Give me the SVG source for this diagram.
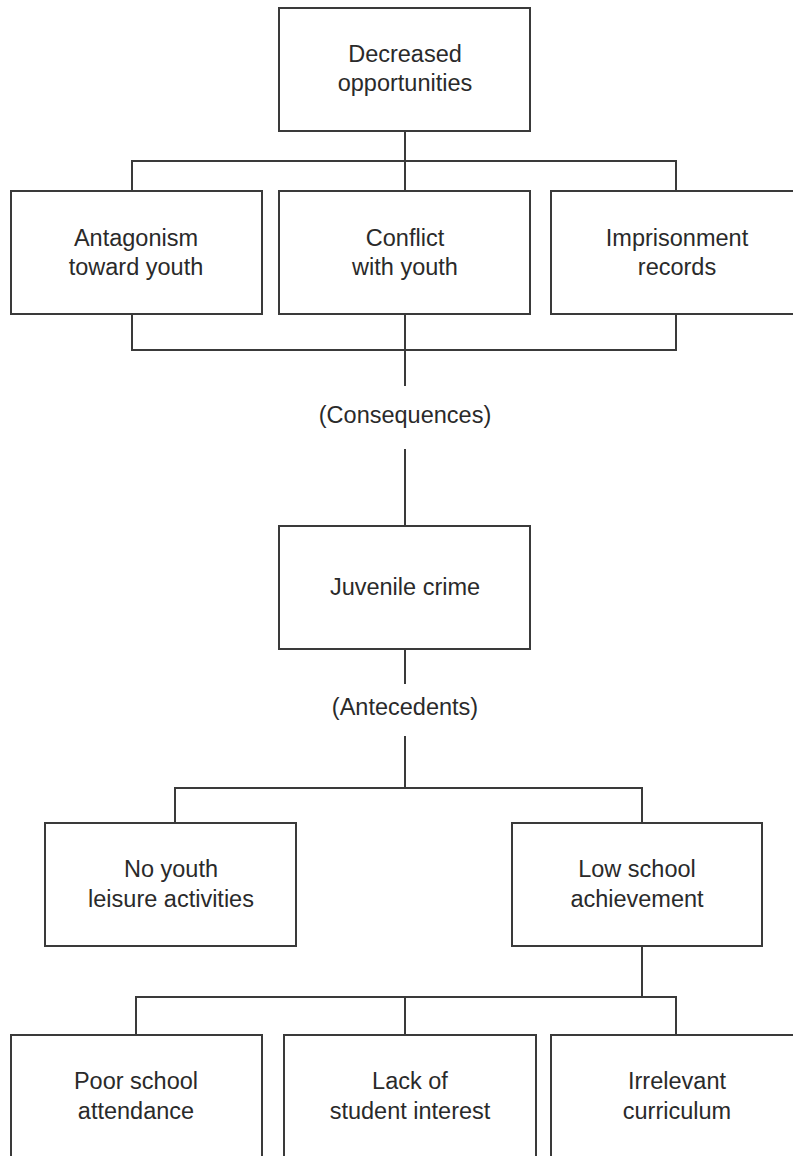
<svg xmlns="http://www.w3.org/2000/svg" width="793" height="1156" viewBox="0 0 793 1156">
  <style>
    .box { fill: #ffffff; stroke: #3a3a3a; stroke-width: 2; }
    .wire { fill: none; stroke: #3a3a3a; stroke-width: 2; }
    .lbl { font-family: "Liberation Sans", Arial, sans-serif; font-size: 23.5px; fill: #2a2a2a; text-anchor: middle; }
  </style>
  <rect width="793" height="1156" fill="#ffffff"/>

  <!-- connectors -->
  <g id="connectors" class="wire">
    <!-- top fan-out -->
    <path d="M405,131 V191"/>
    <path d="M132,191 V161 H676 V191"/>
    <!-- fan-in to consequences -->
    <path d="M132,314 V350 H676 V314"/>
    <path d="M405,314 V386"/>
    <path d="M405,449 V526"/>
    <!-- antecedents -->
    <path d="M405,649 V684"/>
    <path d="M405,736 V788"/>
    <path d="M175,823 V788 H642 V823"/>
    <!-- low school achievement fan-out -->
    <path d="M642,946 V997"/>
    <path d="M136,1035 V997 H676 V1035"/>
    <path d="M405,997 V1035"/>
  </g>

  <g id="decreased-opportunities">
    <rect class="box" x="279" y="8" width="251" height="123"/>
    <text class="lbl" x="405" y="62">Decreased</text>
    <text class="lbl" x="405" y="91">opportunities</text>
  </g>

  <g id="antagonism">
    <rect class="box" x="11" y="191" width="251" height="123"/>
    <text class="lbl" x="136" y="246">Antagonism</text>
    <text class="lbl" x="136" y="275">toward youth</text>
  </g>

  <g id="conflict">
    <rect class="box" x="279" y="191" width="251" height="123"/>
    <text class="lbl" x="405" y="246">Conflict</text>
    <text class="lbl" x="405" y="275">with youth</text>
  </g>

  <g id="imprisonment">
    <rect class="box" x="551" y="191" width="251" height="123"/>
    <text class="lbl" x="677" y="246">Imprisonment</text>
    <text class="lbl" x="677" y="275">records</text>
  </g>

  <g id="consequences">
    <text class="lbl" x="405" y="423">(Consequences)</text>
  </g>

  <g id="juvenile-crime">
    <rect class="box" x="279" y="526" width="251" height="123"/>
    <text class="lbl" x="405" y="595">Juvenile crime</text>
  </g>

  <g id="antecedents">
    <text class="lbl" x="405" y="715">(Antecedents)</text>
  </g>

  <g id="no-leisure">
    <rect class="box" x="45" y="823" width="251" height="123"/>
    <text class="lbl" x="171" y="877">No youth</text>
    <text class="lbl" x="171" y="907">leisure activities</text>
  </g>

  <g id="low-achievement">
    <rect class="box" x="512" y="823" width="250" height="123"/>
    <text class="lbl" x="637" y="877">Low school</text>
    <text class="lbl" x="637" y="907">achievement</text>
  </g>

  <g id="poor-attendance">
    <rect class="box" x="11" y="1035" width="251" height="140"/>
    <text class="lbl" x="136" y="1089">Poor school</text>
    <text class="lbl" x="136" y="1119">attendance</text>
  </g>

  <g id="lack-of-interest">
    <rect class="box" x="284" y="1035" width="252" height="140"/>
    <text class="lbl" x="410" y="1089">Lack of</text>
    <text class="lbl" x="410" y="1119">student interest</text>
  </g>

  <g id="irrelevant-curriculum">
    <rect class="box" x="551" y="1035" width="251" height="140"/>
    <text class="lbl" x="677" y="1089">Irrelevant</text>
    <text class="lbl" x="677" y="1119">curriculum</text>
  </g>
</svg>
